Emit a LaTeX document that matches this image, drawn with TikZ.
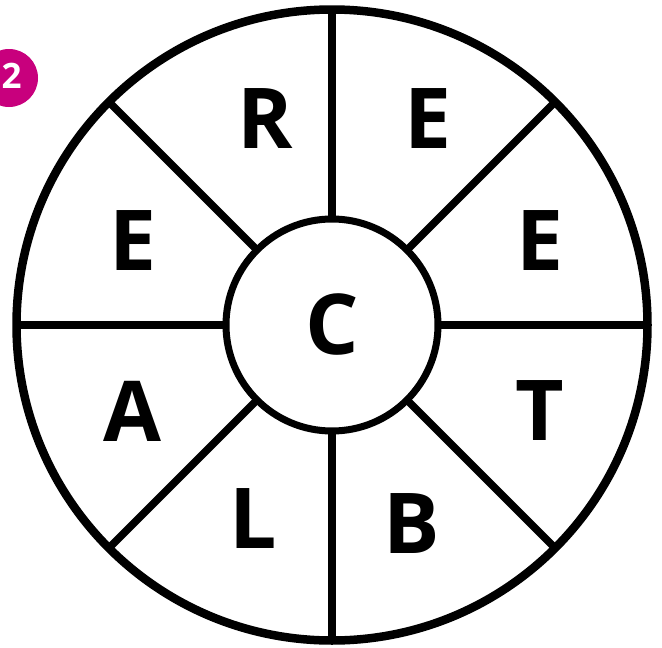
\documentclass[tikz,border=0pt]{standalone}
\usepackage{fontspec}
\setmainfont{Open Sans}
\usetikzlibrary{calc}
\definecolor{badge}{RGB}{200,0,125}
\begin{document}
\begin{tikzpicture}[x=1pt,y=-1pt,
  letter/.style={inner sep=0pt,font=\bfseries\fontsize{84}{90}\selectfont},
  spoke/.style={line width=7.5pt},
]
\useasboundingbox (0,0) rectangle (662,648);
\fill[white] (0,0) rectangle (662,648);
\coordinate (O) at (332,325);
% badge
\fill[badge] (9,78) circle (29);
\node[inner sep=0pt,text=white,font=\bfseries\fontsize{35}{38}\selectfont] (num) at (11.5,76) {2};
% spokes
\foreach \a in {0,45,...,315}{
  \draw[spoke] ($(O)+(\a:106)$) -- ($(O)+(\a:315.5)$);
}
% circles
\draw[line width=8.5pt] (O) circle (315.5);
\draw[line width=7pt,fill=white] (O) circle (106);
% letters
\node[letter] (c) at (332,324) {C};
\node[letter] (r) at (265,119) {R};
\node[letter] (e1) at (428,119) {E};
\node[letter] (e2) at (133,241) {E};
\node[letter] (e3) at (540,241) {E};
\node[letter] (a) at (132,411) {A};
\node[letter] (t) at (540,411) {T};
\node[letter] (l) at (253,519) {L};
\node[letter] (b) at (412,524) {B};
\end{tikzpicture}
\end{document}
